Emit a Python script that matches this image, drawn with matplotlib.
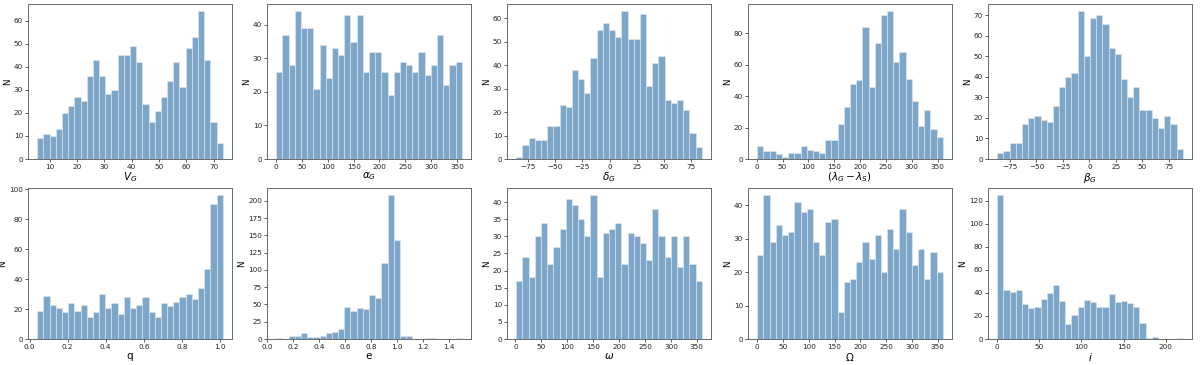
import numpy as np
import matplotlib
matplotlib.use("Agg")
import matplotlib.pyplot as plt

# ---- data: histogram counts (30 bins each) and data ranges ----
vg_counts = [9, 11, 10, 13, 20, 23, 27, 25, 36, 43, 36, 28, 30, 45, 45, 49, 42, 24, 16, 21,
             27, 34, 42, 31, 48, 53, 64, 43, 16, 7]
vg_range = (5.5, 73.3)

alpha_counts = [26, 37, 28, 44, 39, 39, 21, 34, 24, 33, 31, 43, 35, 43, 26, 32, 32, 26, 19, 26,
                29, 28, 26, 32, 25, 28, 37, 22, 28, 29]
alpha_range = (0.5, 359.0)

delta_counts = [1, 6, 9, 8, 8, 14, 14, 23, 22, 38, 34, 28, 43, 55, 58, 55, 52, 63, 51, 51,
                62, 31, 41, 44, 25, 24, 25, 21, 11, 5]
delta_range = (-86.0, 85.0)

lam_counts = [8, 5, 5, 3, 1, 4, 4, 8, 6, 5, 4, 12, 12, 22, 33, 48, 50, 84, 46, 74,
              92, 94, 62, 68, 51, 37, 21, 31, 19, 14]
lam_range = (1.0, 360.0)

beta_counts = [3, 4, 8, 8, 17, 20, 21, 19, 18, 26, 35, 40, 42, 72, 50, 69, 70, 66, 54, 51,
               39, 30, 35, 24, 24, 20, 15, 21, 17, 5]
beta_range = (-87.0, 88.0)

q_counts = [19, 29, 23, 21, 18, 24, 19, 23, 15, 18, 30, 21, 24, 17, 28, 21, 23, 28, 18, 15,
            24, 22, 25, 28, 30, 27, 34, 47, 90, 96]
q_range = (0.04, 1.015)

e_counts = [1, 0, 5, 4, 8, 3, 3, 5, 8, 10, 14, 47, 40, 45, 44, 63, 59, 110, 208, 143,
            5, 4, 0, 0, 2, 1, 0, 0, 0, 1]
e_range = (0.07, 1.50)

omega_counts = [17, 24, 18, 30, 34, 22, 27, 32, 41, 39, 35, 30, 42, 18, 31, 32, 34, 22, 31, 30,
                28, 23, 38, 30, 24, 30, 21, 30, 22, 17]
omega_range = (1.5, 359.5)

node_counts = [25, 43, 29, 34, 31, 32, 41, 38, 39, 29, 25, 35, 36, 8, 17, 18, 23, 29, 24, 31,
               20, 33, 27, 39, 32, 22, 27, 18, 26, 20]
node_range = (0.5, 359.5)

inc_counts = [125, 43, 41, 43, 30, 27, 28, 35, 40, 47, 33, 13, 21, 28, 34, 32, 28, 28, 39, 32,
              33, 31, 28, 14, 1, 2, 0, 0, 0, 1]
inc_range = (0.5, 220.0)

labels = [r"$V_G$", r"$\alpha_G$", r"$\delta_G$", r"$(\lambda_G-\lambda_S)$", r"$\beta_G$",
          "q", "e", r"$\omega$", r"$\Omega$", r"$i$"]

panels = [(vg_counts, vg_range), (alpha_counts, alpha_range), (delta_counts, delta_range),
          (lam_counts, lam_range), (beta_counts, beta_range), (q_counts, q_range),
          (e_counts, e_range), (omega_counts, omega_range), (node_counts, node_range),
          (inc_counts, inc_range)]

fig = plt.figure(figsize=(12, 3.65), dpi=100)
W, H = 1200.0, 365.0
lefts = [28, 267, 507, 748, 988]
aw = 204
rows = [(4, 159), (188, 339)]

for k, ((counts, rng), lab) in enumerate(zip(panels, labels)):
    r, c = divmod(k, 5)
    top, bot = rows[r]
    ax = fig.add_axes([lefts[c] / W, 1 - bot / H, aw / W, (bot - top) / H])
    counts = np.asarray(counts, dtype=float)
    edges = np.linspace(rng[0], rng[1], len(counts) + 1)
    ax.bar(edges[:-1], counts, width=np.diff(edges), align="edge",
           color="steelblue", alpha=0.7, edgecolor="#e6e6e6", linewidth=0.6)
    ax.set_xlabel(lab, fontsize=7.5, labelpad=0.5)
    ax.set_ylabel("N", fontsize=6.2, labelpad=1.5)
    ax.tick_params(labelsize=5.2, length=2, width=0.5, pad=1.5, colors="#222222")
    for s in ax.spines.values():
        s.set_linewidth(0.6)
        s.set_color("#555555")

fig.savefig("out.png", dpi=100)
